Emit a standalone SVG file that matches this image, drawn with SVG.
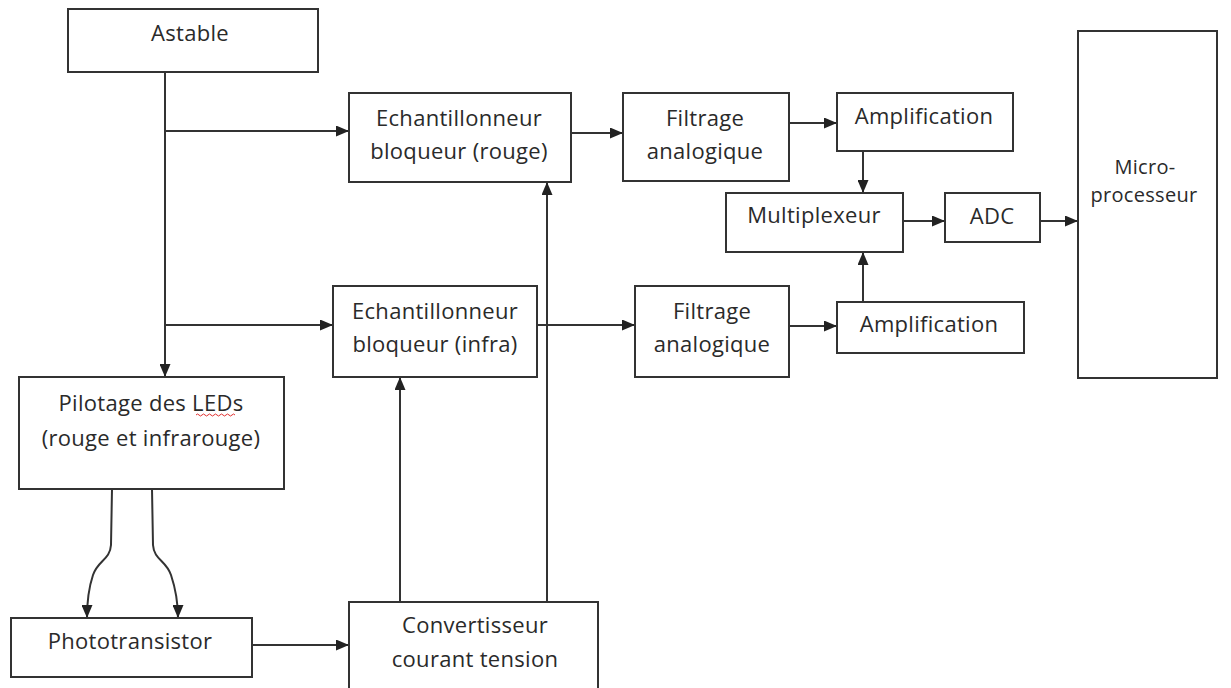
<svg xmlns="http://www.w3.org/2000/svg" width="1231" height="688" viewBox="0 0 1231 688">
<style>
.box{fill:#fff;stroke:#333;stroke-width:2}
.lbl{font-family:"Open Sans","Liberation Sans",sans-serif;font-size:22px;letter-spacing:0.3px;fill:#2a2a2a;text-anchor:middle;dominant-baseline:central}
.sm{font-size:20px}
.ln{fill:none;stroke:#333;stroke-width:2}
</style>
<defs>
<marker id="ah" viewBox="0 0 13 11" refX="13" refY="5.5" markerWidth="13" markerHeight="11" markerUnits="userSpaceOnUse" orient="auto">
<path d="M0 0 L13 5.5 L0 11 Z" fill="#222"/>
</marker>
</defs>
<rect width="1231" height="688" fill="#fff"/>
<g id="connectors">
<path class="ln" d="M165 72 V377" marker-end="url(#ah)"/>
<path class="ln" d="M165 131 H349" marker-end="url(#ah)"/>
<path class="ln" d="M165 325 H333" marker-end="url(#ah)"/>
<path class="ln" d="M571 133 H623" marker-end="url(#ah)"/>
<path class="ln" d="M537 325 H635" marker-end="url(#ah)"/>
<path class="ln" d="M789 123 H837" marker-end="url(#ah)"/>
<path class="ln" d="M789 326 H837" marker-end="url(#ah)"/>
<path class="ln" d="M863 151 V193" marker-end="url(#ah)"/>
<path class="ln" d="M863 302 V252" marker-end="url(#ah)"/>
<path class="ln" d="M903 221 H945" marker-end="url(#ah)"/>
<path class="ln" d="M1040 221 H1078" marker-end="url(#ah)"/>
<path class="ln" d="M547 602 V182" marker-end="url(#ah)"/>
<path class="ln" d="M400 602 V377" marker-end="url(#ah)"/>
<path class="ln" d="M252 645 H349" marker-end="url(#ah)"/>
<path class="ln" d="M112 489 L111 545 C110 560 98 560 93 575 C89 587 87 600 87 618" marker-end="url(#ah)"/>
<path class="ln" d="M152 489 L153 545 C154 560 166 560 171 575 C175 587 178 600 178 618" marker-end="url(#ah)"/>
</g>
<g id="astable"><rect class="box" x="68" y="9" width="250" height="63"/><text class="lbl" x="190" y="32">Astable</text></g>
<g id="ech-rouge"><rect class="box" x="349" y="93" width="222" height="89"/><text class="lbl" x="459" y="117">Echantillonneur</text><text class="lbl" x="459" y="150">bloqueur (rouge)</text></g>
<g id="filtrage1"><rect class="box" x="623" y="93" width="166" height="88"/><text class="lbl" x="705" y="117">Filtrage</text><text class="lbl" x="705" y="150">analogique</text></g>
<g id="amp1"><rect class="box" x="837" y="93" width="176" height="58"/><text class="lbl" x="924" y="115">Amplification</text></g>
<g id="mux"><rect class="box" x="726" y="193" width="177" height="59"/><text class="lbl" x="814" y="214">Multiplexeur</text></g>
<g id="adc"><rect class="box" x="945" y="193" width="95" height="49"/><text class="lbl" x="992" y="215">ADC</text></g>
<g id="micro"><rect class="box" x="1078" y="31" width="139" height="347"/><text class="lbl sm" x="1145" y="166">Micro-</text><text class="lbl sm" x="1144" y="194">processeur</text></g>
<g id="ech-infra"><rect class="box" x="333" y="286" width="204" height="91"/><text class="lbl" x="435" y="310">Echantillonneur</text><text class="lbl" x="435" y="343">bloqueur (infra)</text></g>
<g id="filtrage2"><rect class="box" x="635" y="286" width="154" height="91"/><text class="lbl" x="712" y="310">Filtrage</text><text class="lbl" x="712" y="343">analogique</text></g>
<g id="amp2"><rect class="box" x="837" y="302" width="187" height="51"/><text class="lbl" x="929" y="323">Amplification</text></g>
<g id="pilotage"><rect class="box" x="19" y="377" width="265" height="112"/><text class="lbl" x="151" y="402">Pilotage des LEDs</text><text class="lbl" x="151" y="437">(rouge et infrarouge)</text>
<path d="M196 415 q1.5 -2 3 0 t3 0 t3 0 t3 0 t3 0 t3 0 t3 0 t3 0 t3 0 t3 0 t3 0 t3 0 t3 0" fill="none" stroke="#e03030" stroke-width="1"/></g>
<g id="phototransistor"><rect class="box" x="11" y="618" width="241" height="59"/><text class="lbl" x="130" y="640">Phototransistor</text></g>
<g id="convertisseur"><rect class="box" x="349" y="602" width="249" height="92"/><text class="lbl" x="475" y="624">Convertisseur</text><text class="lbl" x="475" y="658">courant tension</text></g>
</svg>
